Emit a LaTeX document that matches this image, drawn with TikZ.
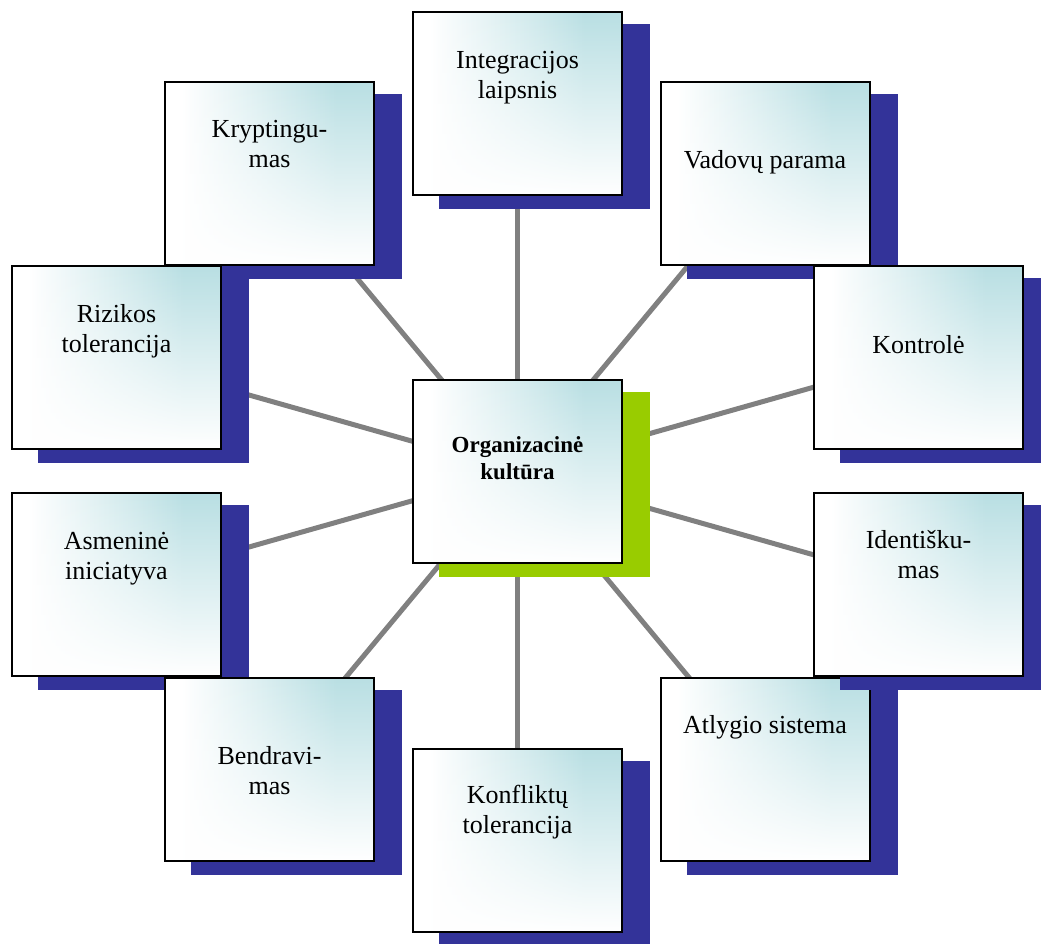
\documentclass[tikz,border=0pt]{standalone}
\usepackage{fontspec}
\setmainfont{Liberation Serif}
\usetikzlibrary{fadings,calc}
\definecolor{tealc}{RGB}{185,223,227}
\definecolor{shblue}{RGB}{51,51,153}
\definecolor{shgreen}{RGB}{153,204,0}
\definecolor{linegray}{RGB}{128,128,128}
\pgfdeclarehorizontalshading{boxh}{100bp}{color(0bp)=(white); color(29bp)=(white); color(66bp)=(tealc); color(100bp)=(tealc)}
\tikzfading[name=boxv, top color=transparent!100, middle color=transparent!70, bottom color=transparent!0]
\pgfdeclarelayer{bg}
\pgfsetlayers{bg,main}
\tikzset{
  boxnode/.style={draw=black, line width=2pt, minimum width=209pt, minimum height=183pt,
    inner sep=0pt, outer sep=0pt,
    path picture={
      \shade[shading=boxh] (path picture bounding box.south west) rectangle (path picture bounding box.north east);
      \fill[white, path fading=boxv] (path picture bounding box.south west) rectangle (path picture bounding box.north east);
    }},
  boxtext/.style={align=center, inner sep=0pt, anchor=base, text=black},
  normalfont/.style={font=\fontsize{26}{30}\selectfont},
  centerfont/.style={font=\bfseries\fontsize{23}{27}\selectfont},
  conn/.style={draw=linegray, line width=5pt}
}
% name, cx, cy, shadow colour, text, baseline offset of the last line, font style
\newcommand\orgbox[7]{%
  \fill[#4] (#2-105.5+27,#3-92.5+13) rectangle ++(211,185);
  \node[boxnode] (#1) at (#2,#3) {};
  \node[boxtext,#7] (#1t) at ($(#1.north)+(0,#6)$) {#5};
}
\begin{document}
\begin{tikzpicture}[x=1pt,y=-1pt]
\useasboundingbox (0,0) rectangle (1041,943);
\orgbox{integ}{517.5}{103.5}{shblue}{Integracijos\\laipsnis}{86}{normalfont}
\orgbox{kryp}{269.5}{173}{shblue}{Kryptingu-\\mas}{86}{normalfont}
\orgbox{riz}{116.5}{357.5}{shblue}{Rizikos\\tolerancija}{86}{normalfont}
\orgbox{asm}{116.5}{584.5}{shblue}{Asmeninė\\iniciatyva}{86}{normalfont}
\orgbox{bend}{269.5}{769}{shblue}{Bendravi-\\mas}{117}{normalfont}
\orgbox{konf}{517.5}{840}{shblue}{Konfliktų\\tolerancija}{85}{normalfont}
\orgbox{atl}{765}{769}{shblue}{Atlygio sistema}{56}{normalfont}
\orgbox{ident}{918.5}{584.5}{shblue}{Identišku-\\mas}{85}{normalfont}
\orgbox{vad}{765}{173}{shblue}{Vadovų parama}{87}{normalfont}
\orgbox{kont}{918.5}{357.5}{shblue}{Kontrolė}{87}{normalfont}
\orgbox{org}{517.5}{471}{shgreen}{Organizacinė\\kultūra}{100}{centerfont}
\begin{pgfonlayer}{bg}
\foreach \n in {integ,kryp,riz,asm,bend,konf,atl,ident,vad,kont}
  \draw[conn] (org.center) -- (\n.center);
\end{pgfonlayer}
\end{tikzpicture}
\end{document}
